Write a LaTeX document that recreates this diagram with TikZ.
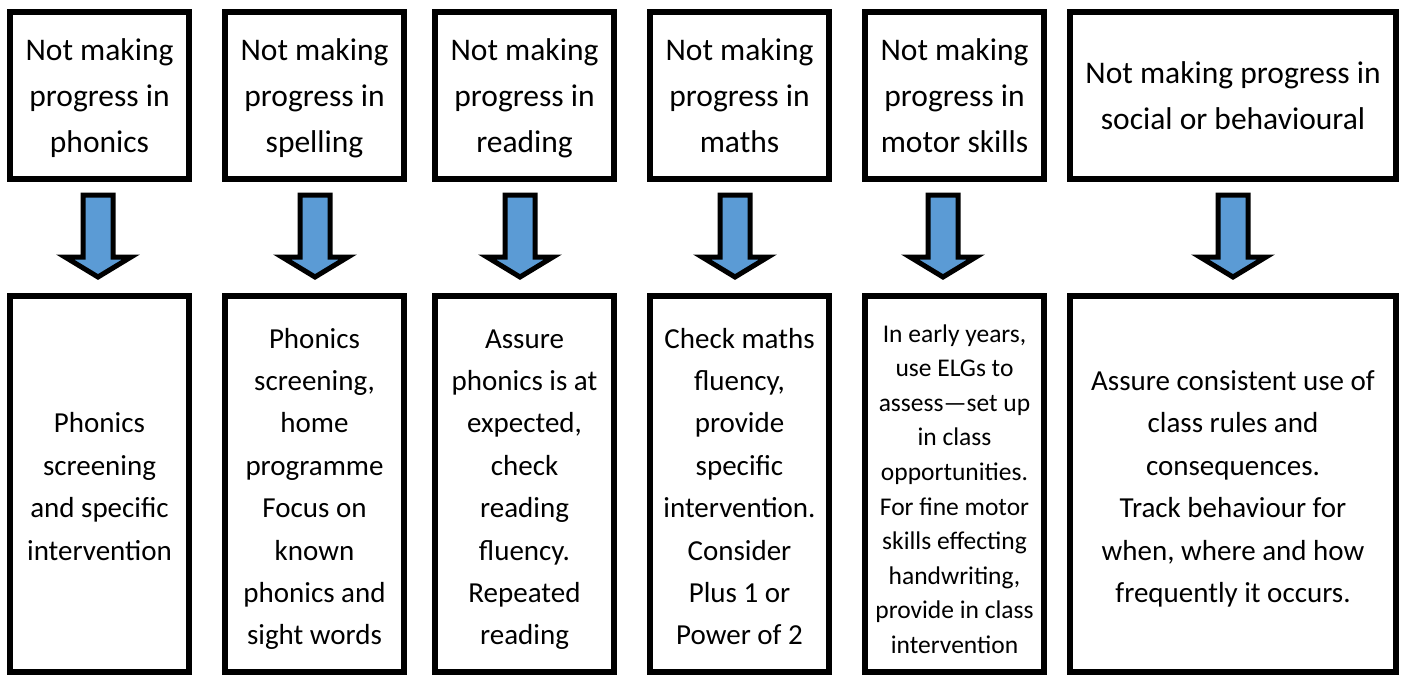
\documentclass[tikz,border=0pt]{standalone}
\usepackage{fontspec}
\setmainfont{Carlito}
\definecolor{arrowblue}{HTML}{5B9BD5}
\newcommand{\topstA}{\rule{0pt}{34pt}}
\newcommand{\botstA}{\rule[-13pt]{0pt}{13pt}}
\newcommand{\topstB}{\rule{0pt}{37pt}}
\newcommand{\botstB}{\rule[-12pt]{0pt}{12pt}}
\newcommand{\topstC}{\rule{0pt}{37.4pt}}
\newcommand{\botstC}{\rule[-10pt]{0pt}{10pt}}
\begin{document}
\begin{tikzpicture}[x=1pt,y=-1pt,
  box/.style={draw=black, line width=6pt, fill=white, inner sep=0pt, align=center, minimum width=179pt},
  topbox/.style={box, minimum height=167pt, font=\fontsize{31.5}{46}\selectfont},
  botbox/.style={box, minimum height=376pt, font=\fontsize{29}{42.4}\selectfont},
  smallbox/.style={botbox, font=\fontsize{25.5}{34.6}\selectfont},
  blockarrow/.style={draw=black, line width=5pt, fill=arrowblue, miter limit=10, line join=miter}]
\useasboundingbox (0,0) rectangle (1405,675);
% top row
\node[topbox] (t1) at (99.5,95.5) {\topstA Not making\\progress in\\phonics\botstA};
\node[topbox] (t2) at (314.5,95.5) {\topstA Not making\\progress in\\spelling\botstA};
\node[topbox] (t3) at (524.5,95.5) {\topstA Not making\\progress in\\reading\botstA};
\node[topbox] (t4) at (739.5,95.5) {\topstA Not making\\progress in\\maths\botstA};
\node[topbox] (t5) at (954.5,95.5) {\topstA Not making\\progress in\\motor skills\botstA};
\node[topbox, minimum width=326pt] (t6) at (1233,95.5) {\topstA Not making progress in\\social or behavioural\botstA};
% bottom row
\node[botbox] (b1) at (99.5,484) {\topstB Phonics\\screening\\and specific\\intervention\botstB};
\node[botbox] (b2) at (314.5,484) {\topstB Phonics\\screening,\\home\\programme\\Focus on\\known\\phonics and\\sight words\botstB};
\node[botbox] (b3) at (524.5,484) {\topstB Assure\\phonics is at\\expected,\\check\\reading\\fluency.\\Repeated\\reading\botstB};
\node[botbox] (b4) at (739.5,484) {\topstB Check maths\\fluency,\\provide\\specific\\intervention.\\Consider\\Plus 1 or\\Power of 2\botstB};
\node[smallbox] (b5) at (954.5,484) {\topstC In early years,\\use ELGs to\\assess—set up\\in class\\opportunities.\\For fine motor\\skills effecting\\handwriting,\\provide in class\\intervention\botstC};
\node[botbox, minimum width=326pt] (b6) at (1233,484) {\topstB Assure consistent use of\\class rules and\\consequences.\\Track behaviour for\\when, where and how\\frequently it occurs.\botstB};
% arrows
\foreach \c/\n in {98/1, 315/2, 520/3, 735/4, 943/5, 1233/6}{
  \coordinate (a\n) at (\c,195);
  \draw[blockarrow] (a\n) ++(-15,0) -- ++(30,0) -- ++(0,62) -- ++(18,0) -- ++(-33,20) -- ++(-33,-20) -- ++(18,0) -- cycle;
}
\end{tikzpicture}
\end{document}
